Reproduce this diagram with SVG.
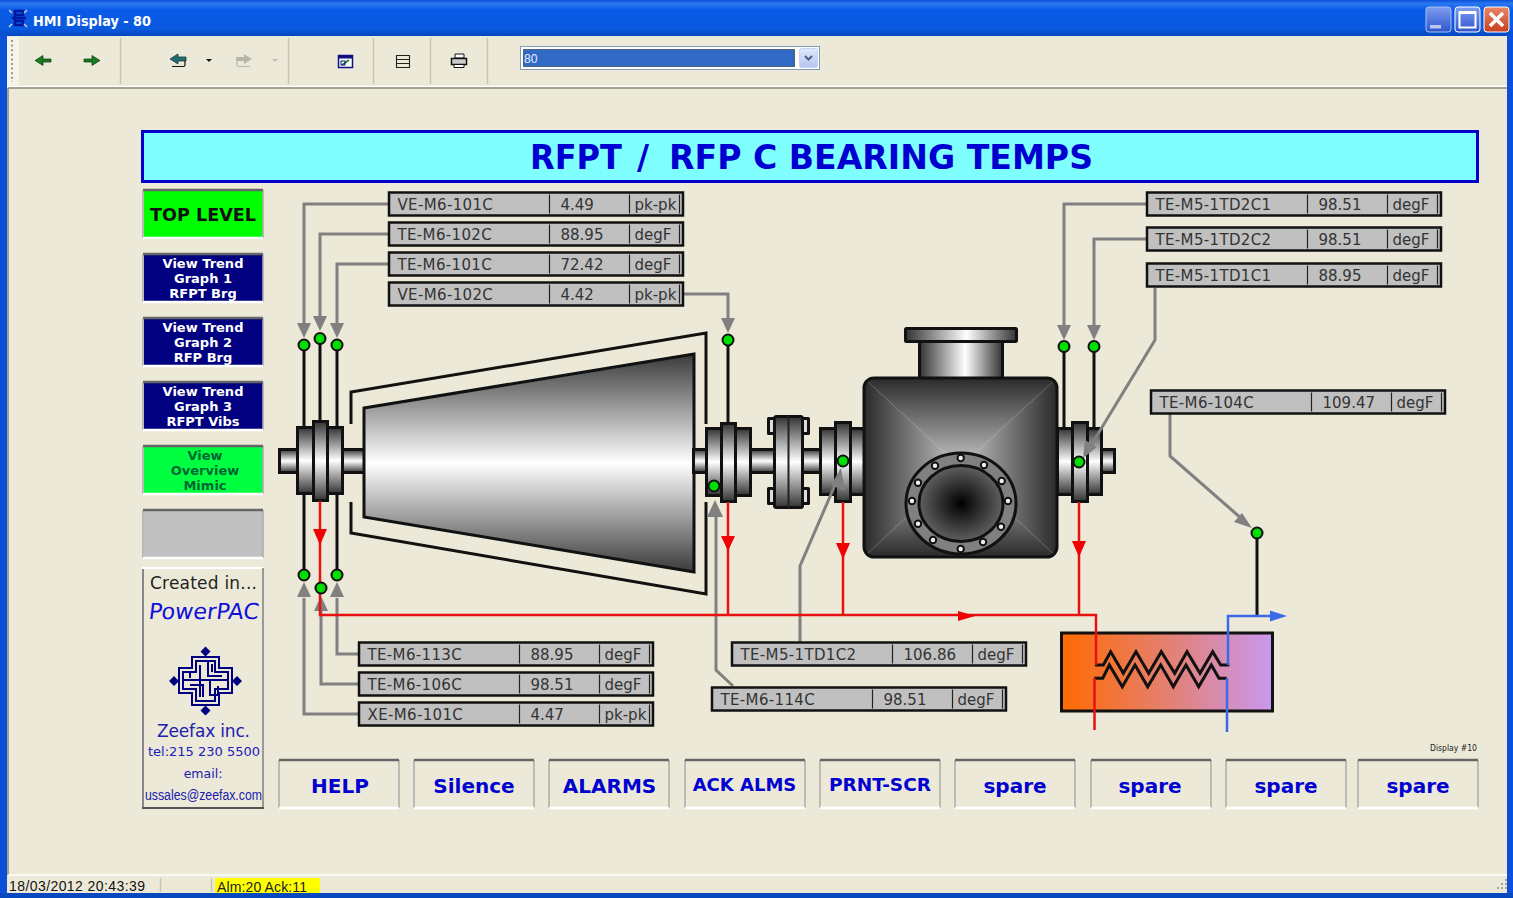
<svg xmlns="http://www.w3.org/2000/svg" width="1513" height="898" viewBox="0 0 1513 898">
<style>
text{font-family:"DejaVu Sans","Liberation Sans",sans-serif}
.tag rect{fill:#c0c0c0;stroke:#111;stroke-width:2.500}
.tag path{stroke:#222;stroke-width:1.200}
.tag text{font-size:15px;fill:#333}
.tag text:first-of-type{letter-spacing:.35px}
.dot{fill:#00e000;stroke:#111;stroke-width:2}
.blk{fill:none;stroke:#111;stroke-width:3}
.gry{fill:none;stroke:#808080;stroke-width:3}
.red{fill:none;stroke:#e81010;stroke-width:2.500}
.blu{fill:none;stroke:#3a6ae8;stroke-width:2.500}
.ag{fill:#808080}.ar{fill:#f00000}.ab{fill:#3a6ae8}
.v{fill:url(#vg);stroke:#111;stroke-width:3}
.h{fill:url(#hg);stroke:#111;stroke-width:3}
.bolt{fill:#eee;stroke:#111;stroke-width:2}
.side text{font-weight:bold;text-anchor:middle;font-size:13px;fill:#fff}
.bottom text{font-weight:bold;text-anchor:middle;fill:#0000d0;font-size:20px}
.banner{font-size:33px;font-weight:bold;fill:#0000d0}
.edgeD{stroke:#666;stroke-width:2.500}.edgeM{stroke:#aaa;stroke-width:1.500}.edgeL{stroke:#fff;stroke-width:2.500}
.sep{stroke:#c8c5b0;stroke-width:1.500}
.ink{fill:none;stroke:#000080;stroke-width:2}
</style>
<defs>
<linearGradient id="vg" x1="0" y1="0" x2="0" y2="1"><stop offset="0" stop-color="#333"/><stop offset=".5" stop-color="#fff"/><stop offset="1" stop-color="#333"/></linearGradient>
<linearGradient id="hg" x1="0" y1="0" x2="1" y2="0"><stop offset="0" stop-color="#333"/><stop offset=".55" stop-color="#fff"/><stop offset="1" stop-color="#333"/></linearGradient>
<linearGradient id="turb" gradientUnits="userSpaceOnUse" x1="0" y1="354" x2="0" y2="572"><stop offset="0" stop-color="#3a3a3a"/><stop offset=".5" stop-color="#fff"/><stop offset="1" stop-color="#3a3a3a"/></linearGradient>
<linearGradient id="title" x1="0" y1="0" x2="0" y2="1"><stop offset="0" stop-color="#0a50d8"/><stop offset=".1" stop-color="#2a78f0"/><stop offset=".28" stop-color="#0a5ae8"/><stop offset=".8" stop-color="#0a5ae0"/><stop offset="1" stop-color="#0448c0"/></linearGradient>
<linearGradient id="hx" x1="0" y1="0" x2="1" y2="0"><stop offset="0" stop-color="#ff6a00"/><stop offset=".5" stop-color="#e48070"/><stop offset="1" stop-color="#c898f0"/></linearGradient>
<linearGradient id="pT" gradientUnits="userSpaceOnUse" x1="0" y1="378" x2="0" y2="467"><stop offset="0" stop-color="#2a2a2a"/><stop offset="1" stop-color="#c8c8c8"/></linearGradient>
<linearGradient id="pB" gradientUnits="userSpaceOnUse" x1="0" y1="557" x2="0" y2="467"><stop offset="0" stop-color="#2a2a2a"/><stop offset="1" stop-color="#c8c8c8"/></linearGradient>
<linearGradient id="pL" gradientUnits="userSpaceOnUse" x1="864" y1="0" x2="960" y2="0"><stop offset="0" stop-color="#2a2a2a"/><stop offset="1" stop-color="#c8c8c8"/></linearGradient>
<linearGradient id="pR" gradientUnits="userSpaceOnUse" x1="1057" y1="0" x2="960" y2="0"><stop offset="0" stop-color="#2a2a2a"/><stop offset="1" stop-color="#c8c8c8"/></linearGradient>
<radialGradient id="bore"><stop offset="0" stop-color="#000"/><stop offset="1" stop-color="#606060"/></radialGradient>
<clipPath id="pc"><rect x="864" y="378" width="193" height="179" rx="10"/></clipPath>
<linearGradient id="btnb" x1="0" y1="0" x2="0" y2="1"><stop offset="0" stop-color="#7f9df0"/><stop offset="1" stop-color="#2f55cc"/></linearGradient>
<linearGradient id="btnc" x1="0" y1="0" x2="0" y2="1"><stop offset="0" stop-color="#e88868"/><stop offset="1" stop-color="#c84020"/></linearGradient>
<linearGradient id="combo" x1="0" y1="0" x2="0" y2="1"><stop offset="0" stop-color="#e0e8fc"/><stop offset="1" stop-color="#b4c4f0"/></linearGradient>
<g id="raise"><path class="edgeM" d="M0 0V48M120 0V48" fill="none"/><path class="edgeD" d="M0 0H120" fill="none"/><path class="edgeL" d="M0 48H120" fill="none"/></g>
</defs>

<rect width="1513" height="898" fill="#ece9d8"/>

<g id="window-chrome">
<rect width="1513" height="36" fill="url(#title)"/>
<rect x="0" y="34" width="7" height="864" fill="#0a50d8"/>
<rect x="1507" y="34" width="6" height="864" fill="#0a50d8"/>
<rect x="0" y="893" width="1513" height="5" fill="#0a48c0"/>
<rect x="7" y="37" width="12" height="48" fill="#f6f4ea"/>
<path d="M12 40V82" stroke="#999" stroke-width="2" stroke-dasharray="2 2.6"/>
<path d="M7 86.500H1507" stroke="#fff" stroke-width="1.500"/>
<path d="M8 88H1507" stroke="#8a8878" stroke-width="1.500"/>
<path d="M8 88V875" stroke="#8a8878" stroke-width="1.500"/>
<path d="M8 875H1507" stroke="#fff" stroke-width="1.500"/>
<text x="33" y="26" font-size="14" font-weight="bold" fill="#fff" textLength="118" lengthAdjust="spacingAndGlyphs">HMI Display - 80</text>
<g fill="none" stroke="#0018a0" stroke-width="2.500"><path d="M15 15H23V11H15V25H23V21H15zM12 18H26"/></g>
<path d="M9 10l3 3M27 10l-3 3M9 27l3-3M27 27l-3-3" stroke="#bcd" stroke-width="1.500"/>
<rect x="1426" y="7" width="25" height="25" rx="3" fill="url(#btnb)" stroke="#a8c0f0"/>
<rect x="1430" y="25" width="11" height="3.500" fill="#b8c8f0"/>
<rect x="1455" y="7" width="25" height="25" rx="3" fill="url(#btnb)" stroke="#fff"/>
<path d="M1459.500 12.500H1475.500V27.500H1459.500z" fill="none" stroke="#fff" stroke-width="2"/><path d="M1459 12.500H1476" stroke="#fff" stroke-width="3"/>
<rect x="1484" y="7" width="25" height="25" rx="3" fill="url(#btnc)" stroke="#fff"/>
<path d="M1490 13L1503 26M1503 13L1490 26" stroke="#fff" stroke-width="3.500"/>
</g>

<g id="toolbar">
<path class="sep" d="M120.500 38V84M288.500 38V84M373.500 38V84M430.500 38V84M487.500 38V84"/>
<path d="M35 60.500L43 55.500V59H51V62H43V65.500z" fill="#1a7a20" stroke="#0a3a10" stroke-width=".7"/>
<path d="M100 60.500L92 55.500V59H84V62H92V65.500z" fill="#1a7a20" stroke="#0a3a10" stroke-width=".7"/>
<path d="M170 59L178 54V57H186V61H178V64z" fill="#1f6f70" stroke="#123" stroke-width=".7"/>
<path d="M185 61V65Q185 66.500 183 66.500H172" fill="none" stroke="#111" stroke-width="1.200"/>
<path d="M206 59H212L209 62z" fill="#111"/>
<path d="M252 59L244 54V57H236V61H244V64z" fill="#b8b6a8"/>
<path d="M237 61V65Q237 66.500 239 66.500H250" fill="none" stroke="#b8b6a8" stroke-width="1.200"/>
<path d="M272 59H278L275 62z" fill="#c0bdb0"/>
<rect x="338.500" y="55.500" width="14" height="12" fill="#fff" stroke="#101080" stroke-width="1.500"/><rect x="338.500" y="55.500" width="14" height="3" fill="#101080"/>
<path d="M342 65L349 60" stroke="#1a8a30" stroke-width="1.800"/><rect x="341" y="61" width="4" height="4" fill="none" stroke="#101080"/>
<path d="M396.500 55.500H409.500V67.500H396.500zM396.500 59.500H409.500M396.500 63.500H409.500" fill="#ece9d8" stroke="#222" stroke-width="1.100"/>
<path d="M455 54H464V58H455z" fill="#fff" stroke="#111"/>
<path d="M451.500 58.500H466.500V64.500H451.500z" fill="#ccc" stroke="#111" stroke-width="1.500"/>
<path d="M454 64.500H464V67.500H454z" fill="#fff" stroke="#111"/>
<rect x="520.500" y="46.500" width="299" height="23" fill="#fff" stroke="#7f9db9"/>
<rect x="523.500" y="49.500" width="271" height="17" fill="#316ac5" stroke="#111" stroke-dasharray="1 1"/>
<text x="524" y="63" font-size="13.500" fill="#e8f0ff" style="font-family:'Liberation Sans',sans-serif" textLength="13.500" lengthAdjust="spacingAndGlyphs">80</text>
<rect x="799.500" y="48.500" width="18" height="19" rx="2" fill="url(#combo)" stroke="#c8d4f4"/>
<path d="M805 56L808.500 59.500L812 56" fill="none" stroke="#4d6185" stroke-width="2"/>
</g>

<g id="title-banner">
<rect x="142.500" y="131.500" width="1335" height="50" fill="#7fffff" stroke="#0000c8" stroke-width="3"/>
<text class="banner" y="169"><tspan x="530" textLength="92" lengthAdjust="spacingAndGlyphs">RFPT</tspan><tspan x="637">/</tspan><tspan x="669" textLength="424" lengthAdjust="spacingAndGlyphs">RFP C BEARING TEMPS</tspan></text>
</g>

<g id="side-buttons" class="side">
<g id="btn-top-level"><rect x="144" y="191" width="119" height="46" fill="#00ff00"/><use href="#raise" x="143" y="190"/><text x="203" y="221" textLength="106" lengthAdjust="spacingAndGlyphs" style="font-size:18px;fill:#111">TOP LEVEL</text></g>
<g id="btn-trend-1"><rect x="144" y="255" width="119" height="46" fill="#000080"/><use href="#raise" x="143" y="254"/><text x="203" y="268">View Trend</text><text x="203" y="283">Graph 1</text><text x="203" y="298">RFPT Brg</text></g>
<g id="btn-trend-2"><rect x="144" y="319" width="119" height="46" fill="#000080"/><use href="#raise" x="143" y="318"/><text x="203" y="332">View Trend</text><text x="203" y="347">Graph 2</text><text x="203" y="362">RFP Brg</text></g>
<g id="btn-trend-3"><rect x="144" y="383" width="119" height="46" fill="#000080"/><use href="#raise" x="143" y="382"/><text x="203" y="396">View Trend</text><text x="203" y="411">Graph 3</text><text x="203" y="426">RFPT Vibs</text></g>
<g id="btn-overview"><rect x="144" y="447" width="119" height="46" fill="#00ff40"/><use href="#raise" x="143" y="446"/><text x="205" y="460" style="fill:#063">View</text><text x="205" y="475" style="fill:#063">Overview</text><text x="205" y="490" style="fill:#063">Mimic</text></g>
<g id="btn-blank"><rect x="144" y="511" width="119" height="46" fill="#c0c0c0"/><use href="#raise" x="143" y="510"/></g>
</g>

<g id="credit-panel">
<path d="M143 808V568" stroke="#888" stroke-width="2"/><path d="M142 568H263" stroke="#fff" stroke-width="2"/><path d="M263 568V808" stroke="#999" stroke-width="2"/><path d="M142 808H264" stroke="#555" stroke-width="2"/>
<text x="150" y="589" font-size="17" fill="#222" textLength="107">Created in...</text>
<text transform="translate(148 619) skewX(-7)" font-size="22" fill="#1010d8" textLength="110" lengthAdjust="spacingAndGlyphs">PowerPAC</text>
<g id="logo">
<path fill="#000080" d="M205.500 646.500l5 5-5 5-5-5zM205.500 705.500l5 5-5 5-5-5zM174 676l5 5-5 5-5-5zM237 676l5 5-5 5-5-5z"/>
<path class="ink" d="M192 657H219V668H232V693H219V705H192V693H179V668H192z"/>
<path class="ink" d="M196 661H215V672H228V689H215V701H196V689H183V672H196z"/>
<path class="ink" d="M200 665V697M208 661V676H222M190 685H203V697M183 680H228M212 672V664M197 672H190V678M210 680V695H218V686"/>
</g>
<text x="157" y="737" font-size="17" fill="#2020b0" textLength="93">Zeefax inc.</text>
<text x="148" y="756" font-size="13" fill="#2020c0" textLength="112">tel:215 230 5500</text>
<text x="203" y="778" font-size="12.500" fill="#2020b0" text-anchor="middle">email:</text>
<text x="145" y="800" font-size="14" fill="#2020b0" style="font-family:'Liberation Sans',sans-serif" textLength="117" lengthAdjust="spacingAndGlyphs">ussales@zeefax.com</text>
</g>

<g id="turbine">
<path class="blk" d="M351 424V392L706 333V424M351 502V533L706 594V502"/>
<rect class="v" x="279.500" y="449.500" width="85" height="23"/>
<rect class="v" x="297.500" y="427.500" width="45" height="66"/>
<rect class="v" x="313.500" y="421.500" width="14" height="79"/>
<path d="M364 408L694 354V572L364 517z" fill="url(#turb)" stroke="#111" stroke-width="3"/>
</g>

<g id="shaft-coupling">
<rect class="v" x="693.500" y="449.500" width="130" height="23"/>
<rect class="v" x="706.500" y="428.500" width="44" height="67"/>
<rect class="v" x="721.500" y="423.500" width="14" height="78"/>
<path d="M768.500 418.500H775V433.500H768.500zM802 418.500H808.500V433.500H802zM768.500 488.500H775V503.500H768.500zM802 488.500H808.500V503.500H802z" fill="#ddd" stroke="#111" stroke-width="3" stroke-linejoin="round"/>
<rect class="v" x="774.500" y="416.500" width="28" height="91" rx="2"/>
<path d="M788.500 416V508" stroke="#222" stroke-width="2"/>
<rect class="v" x="820.500" y="428.500" width="44" height="66"/>
<rect class="v" x="835.500" y="422.500" width="15" height="79"/>
</g>

<g id="pump">
<rect class="v" x="1095" y="449.500" width="19.500" height="23"/>
<rect class="v" x="1057.500" y="428.500" width="44" height="66"/>
<rect class="v" x="1072.500" y="422.500" width="15" height="79"/>
<rect class="h" x="919.500" y="341" width="83" height="38"/>
<rect class="h" x="905.500" y="328.500" width="111" height="13" rx="1"/>
<g clip-path="url(#pc)">
<path d="M864 378H1057L960 467z" fill="url(#pT)"/>
<path d="M864 557H1057L960 467z" fill="url(#pB)"/>
<path d="M864 378V557L960 467z" fill="url(#pL)"/>
<path d="M1057 378V557L960 467z" fill="url(#pR)"/>
</g>
<rect x="864" y="378" width="193" height="179" rx="10" fill="none" stroke="#111" stroke-width="3"/>
<ellipse cx="961" cy="503.500" rx="55" ry="50.500" fill="#808080" stroke="#111" stroke-width="3"/>
<ellipse cx="961" cy="503.500" rx="42" ry="38" fill="url(#bore)" stroke="#111" stroke-width="3"/>
<g class="bolt"><circle cx="960.700" cy="458" r="3.200"/><circle cx="984" cy="465" r="3.200"/><circle cx="1001.700" cy="481" r="3.200"/><circle cx="1008" cy="501" r="3.200"/><circle cx="1001" cy="526.700" r="3.200"/><circle cx="983" cy="542" r="3.200"/><circle cx="960.700" cy="549" r="3.200"/><circle cx="933" cy="540" r="3.200"/><circle cx="918" cy="523.700" r="3.200"/><circle cx="912" cy="501" r="3.200"/><circle cx="918" cy="482.700" r="3.200"/><circle cx="935" cy="465.700" r="3.200"/></g>
</g>

<g id="heat-exchanger">
<rect x="1061.500" y="633" width="211" height="78" fill="url(#hx)" stroke="#111" stroke-width="3"/>
<path class="blk" d="M1095 665H1103.300L1110.700 651.700L1123.300 673.300L1136 651.700L1148.700 673.300L1161.300 651.700L1174.700 673.300L1187 651.700L1200 673.300L1212.700 651.700L1220.700 665H1229.300"/>
<path class="blk" d="M1094.300 678.300H1102.700L1109.300 665L1122.300 686.700L1135 665L1147.700 686.700L1160.700 665L1173.300 686.700L1186 665L1198.700 686.700L1211.300 665L1219 678.300H1226.700"/>
</g>

<g id="connectors">
<path class="gry" d="M388 204H304V324M388 234H320V318M388 264H337V324M684 294H728V320M1146 204H1064V326M1146 239H1094V326M1155 288V340L1090 447M1170 414V456L1242 519M800 642V566L838 478M733 686L716 670V516M358 654H337V598M358 684H321V611M358 714H304V598"/>
<path class="ag" d="M297 323H311L304 338zM313 316H327L320 331zM330 323H344L337 338zM721 318H735L728 333zM1057 325H1071L1064 340zM1087 325H1101L1094 340zM1083 458L1085 440L1097 447zM1252 528L1234 522L1242 513zM841 468L831 485L845 491zM707 517H723L715 500zM330 597H344L337 582zM314 611H328L321 596zM297 597H311L304 582z"/>
<path class="blk" d="M304 345V427M320 338V421M337 345V427M304 494V575M337 494V575M728 340V423M1064 346V428M1094 346V428M1257 533V616"/>
<path class="red" d="M320 501V615H1096V665M728 502V616M843 502V616M1079 502V616M1094.500 678V730"/>
<path class="ar" d="M313 529H327L320 545zM721 536H735L728 551zM836 543H850L843 559zM1072 541H1086L1079 557zM958 611L975 616L958 621z"/>
<path class="blu" d="M1228 665V616H1272M1227 678V732"/>
<path class="ab" d="M1270 610.500L1287 616L1270 621.500z"/>
</g>

<g id="sensors">
<circle class="dot" cx="304" cy="345" r="5.500"/><circle class="dot" cx="320" cy="338.500" r="5.500"/><circle class="dot" cx="337" cy="345" r="5.500"/>
<circle class="dot" cx="304" cy="575" r="5.500"/><circle class="dot" cx="321" cy="588" r="5.500"/><circle class="dot" cx="337" cy="575" r="5.500"/>
<circle class="dot" cx="728" cy="340" r="5.500"/><circle class="dot" cx="714" cy="486" r="5.500"/><circle class="dot" cx="843" cy="461" r="5.500"/>
<circle class="dot" cx="1064" cy="346.500" r="5.500"/><circle class="dot" cx="1094" cy="346.500" r="5.500"/><circle class="dot" cx="1079" cy="462" r="5.500"/><circle class="dot" cx="1257" cy="533" r="5.500"/>
</g>

<g id="tag-ve-m6-101c" class="tag" transform="translate(388.500 192.500)"><rect x=".5" width="294" height="23"/><path d="M161 2V21M241 2V21M291 2V21"/><text x="9" y="17.500">VE-M6-101C</text><text x="172" y="17.500">4.49</text><text x="246" y="17.500">pk-pk</text></g>
<g id="tag-te-m6-102c" class="tag" transform="translate(388.500 222.500)"><rect x=".5" width="294" height="23"/><path d="M161 2V21M241 2V21M291 2V21"/><text x="9" y="17.500">TE-M6-102C</text><text x="172" y="17.500">88.95</text><text x="246" y="17.500">degF</text></g>
<g id="tag-te-m6-101c" class="tag" transform="translate(388.500 252.500)"><rect x=".5" width="294" height="23"/><path d="M161 2V21M241 2V21M291 2V21"/><text x="9" y="17.500">TE-M6-101C</text><text x="172" y="17.500">72.42</text><text x="246" y="17.500">degF</text></g>
<g id="tag-ve-m6-102c" class="tag" transform="translate(388.500 282.500)"><rect x=".5" width="294" height="23"/><path d="M161 2V21M241 2V21M291 2V21"/><text x="9" y="17.500">VE-M6-102C</text><text x="172" y="17.500">4.42</text><text x="246" y="17.500">pk-pk</text></g>
<g id="tag-te-m5-1td2c1" class="tag" transform="translate(1146.500 192.500)"><rect x=".5" width="294" height="23"/><path d="M161 2V21M241 2V21M291 2V21"/><text x="9" y="17.500">TE-M5-1TD2C1</text><text x="172" y="17.500">98.51</text><text x="246" y="17.500">degF</text></g>
<g id="tag-te-m5-1td2c2" class="tag" transform="translate(1146.500 227.500)"><rect x=".5" width="294" height="23"/><path d="M161 2V21M241 2V21M291 2V21"/><text x="9" y="17.500">TE-M5-1TD2C2</text><text x="172" y="17.500">98.51</text><text x="246" y="17.500">degF</text></g>
<g id="tag-te-m5-1td1c1" class="tag" transform="translate(1146.500 263.500)"><rect x=".5" width="294" height="23"/><path d="M161 2V21M241 2V21M291 2V21"/><text x="9" y="17.500">TE-M5-1TD1C1</text><text x="172" y="17.500">88.95</text><text x="246" y="17.500">degF</text></g>
<g id="tag-te-m6-104c" class="tag" transform="translate(1150.500 390.500)"><rect x=".5" width="294" height="23"/><path d="M161 2V21M241 2V21M291 2V21"/><text x="9" y="17.500">TE-M6-104C</text><text x="172" y="17.500">109.47</text><text x="246" y="17.500">degF</text></g>
<g id="tag-te-m6-113c" class="tag" transform="translate(358.500 642.500)"><rect x=".5" width="294" height="23"/><path d="M161 2V21M241 2V21M291 2V21"/><text x="9" y="17.500">TE-M6-113C</text><text x="172" y="17.500">88.95</text><text x="246" y="17.500">degF</text></g>
<g id="tag-te-m6-106c" class="tag" transform="translate(358.500 672.500)"><rect x=".5" width="294" height="23"/><path d="M161 2V21M241 2V21M291 2V21"/><text x="9" y="17.500">TE-M6-106C</text><text x="172" y="17.500">98.51</text><text x="246" y="17.500">degF</text></g>
<g id="tag-xe-m6-101c" class="tag" transform="translate(358.500 702.500)"><rect x=".5" width="294" height="23"/><path d="M161 2V21M241 2V21M291 2V21"/><text x="9" y="17.500">XE-M6-101C</text><text x="172" y="17.500">4.47</text><text x="246" y="17.500">pk-pk</text></g>
<g id="tag-te-m5-1td1c2" class="tag" transform="translate(731.500 642.500)"><rect x=".5" width="294" height="23"/><path d="M161 2V21M241 2V21M291 2V21"/><text x="9" y="17.500">TE-M5-1TD1C2</text><text x="172" y="17.500">106.86</text><text x="246" y="17.500">degF</text></g>
<g id="tag-te-m6-114c" class="tag" transform="translate(711.500 687.500)"><rect x=".5" width="294" height="23"/><path d="M161 2V21M241 2V21M291 2V21"/><text x="9" y="17.500">TE-M6-114C</text><text x="172" y="17.500">98.51</text><text x="246" y="17.500">degF</text></g>

<text x="1430" y="751" font-size="8" fill="#222" textLength="47" lengthAdjust="spacingAndGlyphs">Display #10</text>

<g id="bottom-buttons" class="bottom">
<g id="btn-help"><use href="#raise" x="279" y="760"/><text x="340" y="793">HELP</text></g>
<g id="btn-silence"><use href="#raise" x="414" y="760"/><text x="474" y="793">Silence</text></g>
<g id="btn-alarms"><use href="#raise" x="549" y="760"/><text x="609.500" y="793">ALARMS</text></g>
<g id="btn-ack"><use href="#raise" x="685" y="760"/><text x="744.500" y="791" style="font-size:18px">ACK ALMS</text></g>
<g id="btn-prnt"><use href="#raise" x="820" y="760"/><text x="880" y="791" style="font-size:18.500px">PRNT-SCR</text></g>
<g id="btn-spare-1"><use href="#raise" x="955" y="760"/><text x="1015" y="793">spare</text></g>
<g id="btn-spare-2"><use href="#raise" x="1091" y="760"/><text x="1150" y="793">spare</text></g>
<g id="btn-spare-3"><use href="#raise" x="1226" y="760"/><text x="1286" y="793">spare</text></g>
<g id="btn-spare-4"><use href="#raise" x="1358" y="760"/><text x="1418" y="793">spare</text></g>
</g>

<g id="status-bar">
<path class="sep" d="M160.500 878V892M211.500 878V892"/>
<text x="9" y="891" font-size="14" fill="#111" style="font-family:'Liberation Sans',sans-serif" textLength="136">18/03/2012 20:43:39</text>
<rect x="215" y="878" width="105" height="15" fill="#ffff00"/>
<text x="217" y="892" font-size="14" fill="#222" style="font-family:'Liberation Sans',sans-serif" textLength="90">Alm:20 Ack:11</text>
<path d="M1506 879v2M1502 883v2M1506 883v2M1498 887v2M1502 887v2M1506 887v2" stroke="#a8a698" stroke-width="2"/>
</g>
</svg>
